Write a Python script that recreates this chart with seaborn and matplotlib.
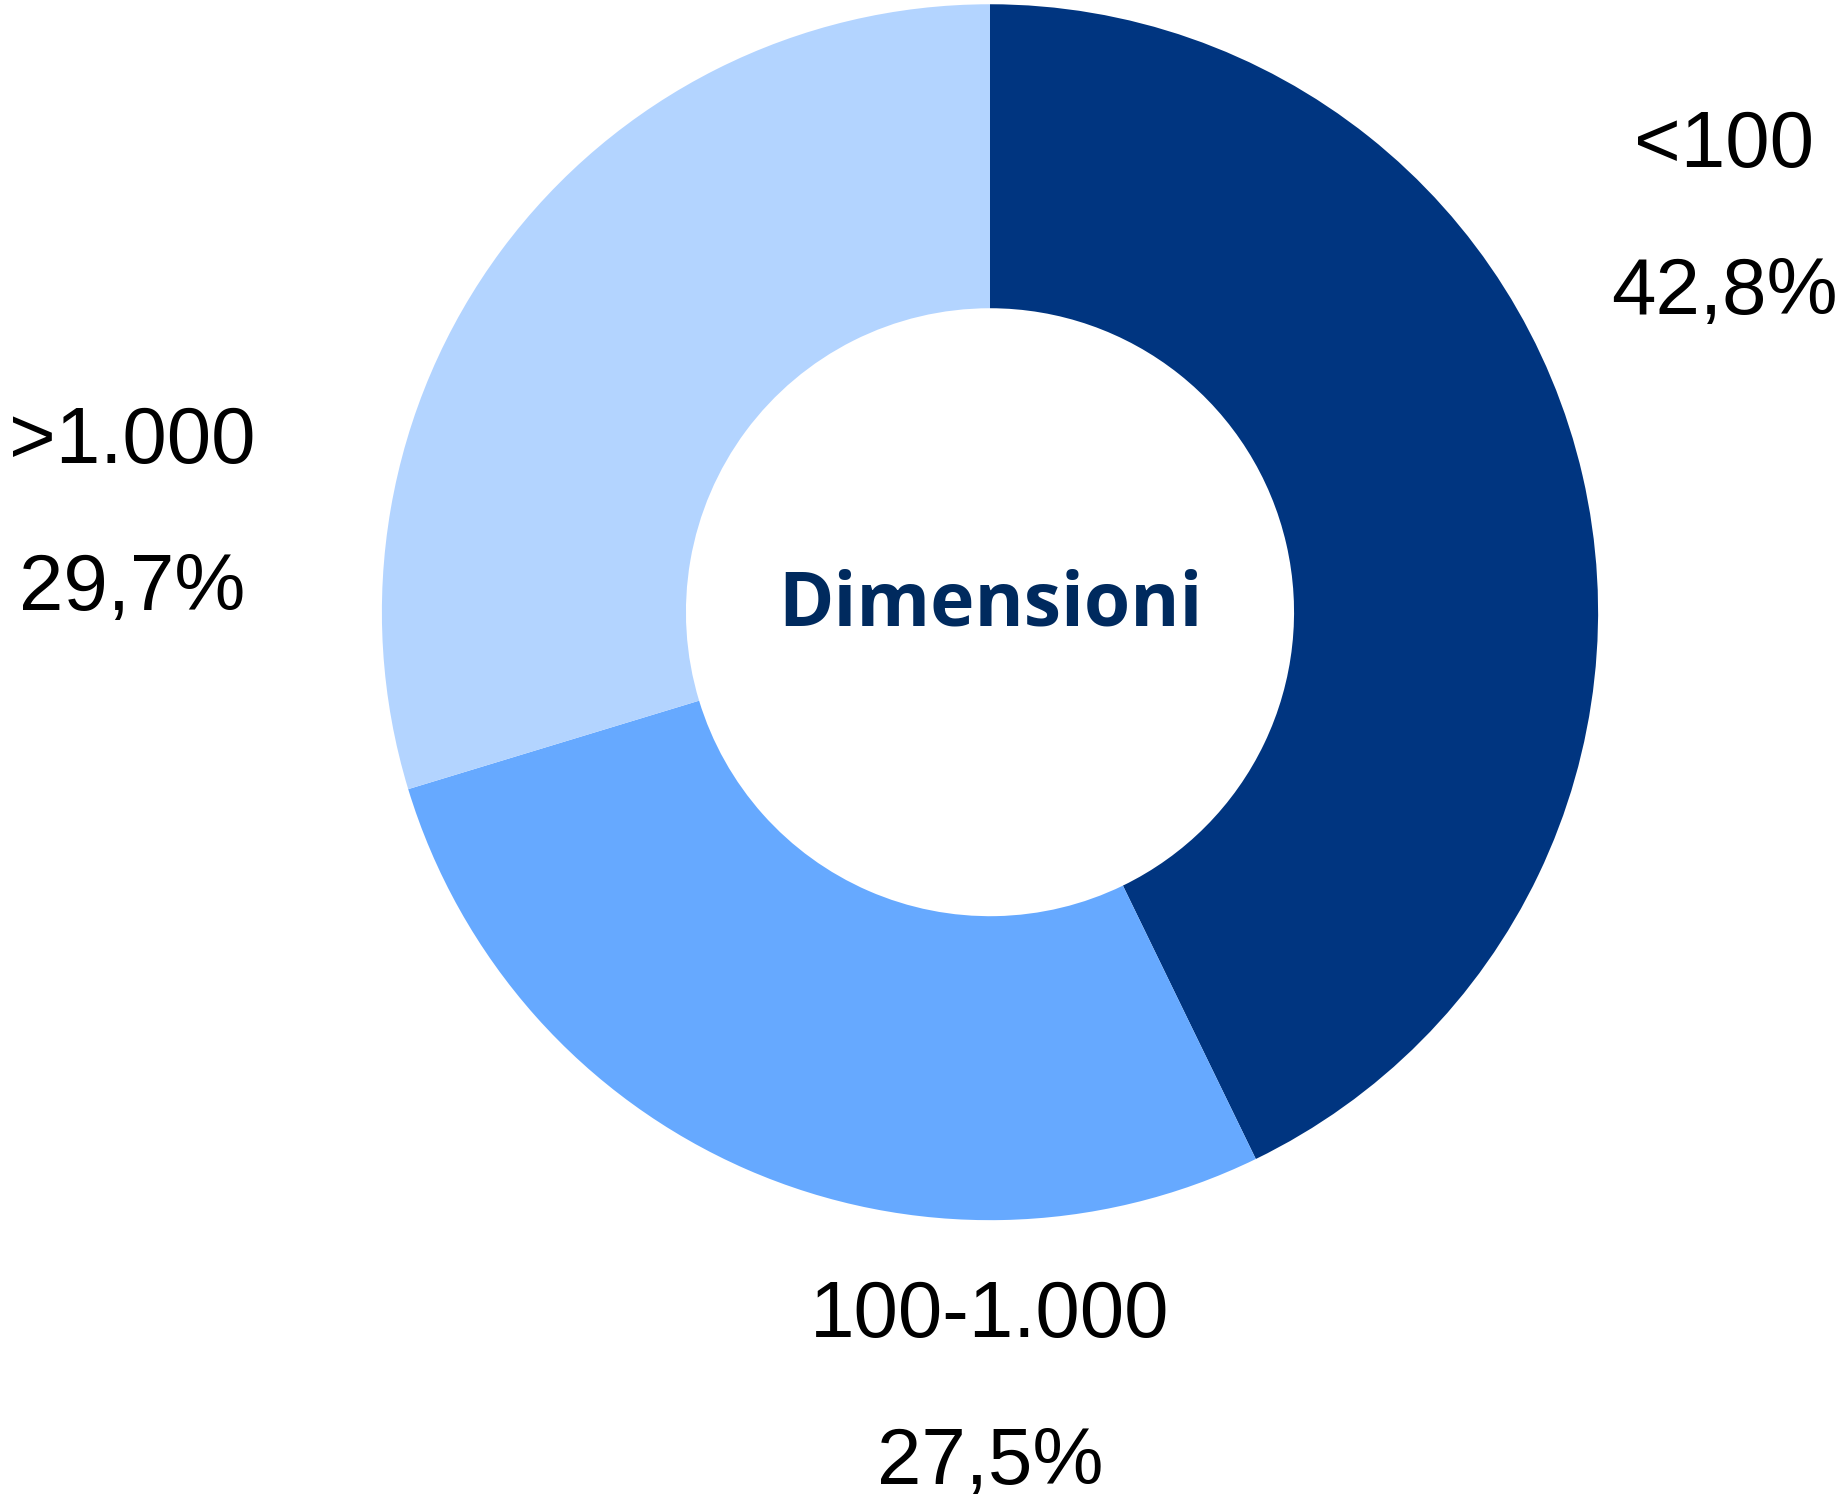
import matplotlib
matplotlib.use("Agg")
import matplotlib.pyplot as plt
import seaborn as sns

categories = ["<100", "100-1.000", ">1.000"]
shares = [42.8, 27.5, 29.7]
share_labels = ["42,8%", "27,5%", "29,7%"]
colors = ["#003580", "#66A9FF", "#B3D4FF"]

# label anchors (data units, ring radius = 1)
label_pos = [(1.207, 0.766), (0.0, -1.158), (-1.410, 0.279)]
line_gap = 0.242

sns.set_theme(style="white")
plt.rcParams['font.family'] = ['Liberation Sans', 'DejaVu Sans']

fig = plt.figure(figsize=(18.45, 14.98), dpi=100)
ax = fig.add_axes([0, 0, 1, 1])
ax.pie(shares, colors=colors, startangle=90, counterclock=False,
       radius=1, wedgeprops=dict(width=0.5, linewidth=0))
ax.set_aspect('auto')
ax.set_xlim(-1.628, 1.406)
ax.set_ylim(-1.457, 1.007)
ax.axis('off')

for (x, y), cat, lab in zip(label_pos, categories, share_labels):
    ax.text(x, y, cat, ha='center', va='center', fontsize=57.5, color='black')
    ax.text(x, y - line_gap, lab, ha='center', va='center', fontsize=57.5, color='black')

ax.text(0, 0.01, "Dimensioni", ha='center', va='center', fontsize=54,
        fontweight='bold', family=['Open Sans', 'DejaVu Sans'], color='#002A5E')

fig.savefig("out.png", dpi=100, facecolor='white')
